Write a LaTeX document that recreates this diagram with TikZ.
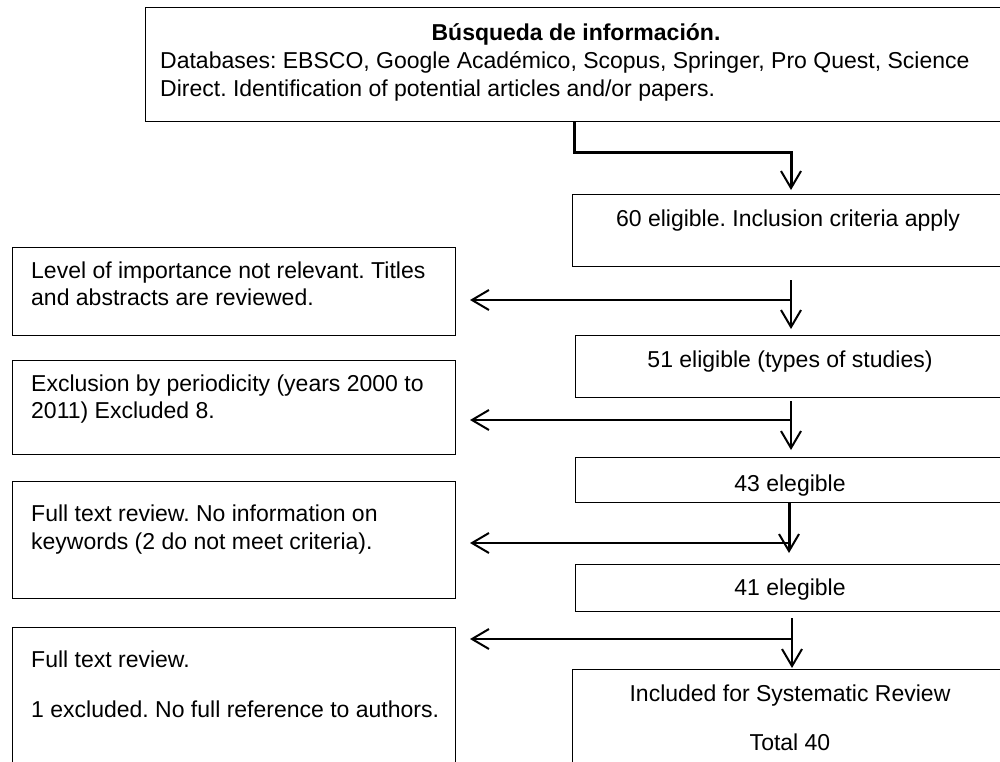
\documentclass[tikz,border=0pt]{standalone}
\usepackage{fontspec}
\setmainfont{Liberation Sans}
\usetikzlibrary{arrows.meta,calc}
\frenchspacing
\begin{document}
\begin{tikzpicture}[x=1pt,y=-1pt,
  box/.style={draw,line width=1pt,rectangle,inner sep=0pt,anchor=north west},
  lt/.style={anchor=base west,inner sep=0pt,font=\fontsize{23}{26.5}\selectfont},
  ct/.style={anchor=base,inner sep=0pt,font=\fontsize{23}{26.5}\selectfont},
  tip/.style={-{Straight Barb[length=17pt,width=20pt,line width=2pt]}},
  vflow/.style={tip,line width=2pt},
  hflow/.style={tip,line width=2.5pt,shorten >=14pt},
]
\useasboundingbox (0,0) rectangle (1000,761);
\clip (0,0) rectangle (1000,761);

% search box
\node[box,minimum width=863pt,minimum height=114pt] (top) at (145,7) {};
\node[ct,font=\fontsize{23}{26.5}\selectfont\bfseries] (t0) at (576,40) {Búsqueda de información.};
\node[lt] (t1) at (160,68) {Databases: EBSCO, Google Académico, Scopus, Springer, Pro Quest, Science};
\node[lt] (t2) at (160,96) {Direct. Identification of potential articles and/or papers.};

% main column
\node[box,minimum width=436pt,minimum height=72pt] (c60) at (572,194) {};
\node[ct] (c60t) at (788,226) {60 eligible. Inclusion criteria apply};
\node[box,minimum width=433pt,minimum height=62pt] (c51) at (575,335) {};
\node[ct] (c51t) at (790,367) {51 eligible (types of studies)};
\node[box,minimum width=433pt,minimum height=45pt] (c43) at (575,457) {};
\node[ct] (c43t) at (790,491) {43 elegible};
\node[box,minimum width=433pt,minimum height=47pt] (c41) at (575,564) {};
\node[ct] (c41t) at (790,595) {41 elegible};
\node[box,minimum width=436pt,minimum height=110pt] (inc) at (572,669) {};
\node[ct] (inct1) at (790,701) {Included for Systematic Review};
\node[ct] (inct2) at (790,750) {Total 40};

% exclusion column
\node[box,minimum width=443pt,minimum height=88pt] (lvl) at (12,247) {};
\node[lt] (lvl1) at (31,278) {Level of importance not relevant. Titles};
\node[lt] (lvl2) at (31,305) {and abstracts are reviewed.};
\node[box,minimum width=443pt,minimum height=94pt] (exc) at (12,360) {};
\node[lt] (exc1) at (31,391) {Exclusion by periodicity (years 2000 to};
\node[lt] (exc2) at (31,418) {2011) Excluded 8.};
\node[box,minimum width=443pt,minimum height=117pt] (ftr) at (12,481) {};
\node[lt] (ftr1) at (31,521) {Full text review. No information on};
\node[lt] (ftr2) at (31,549) {keywords (2 do not meet criteria).};
\node[box,minimum width=443pt,minimum height=150pt] (lst) at (12,627) {};
\node[lt] (lst1) at (31,667) {Full text review.};
\node[lt] (lst2) at (31,717) {1 excluded. No full reference to authors.};

% connectors
\coordinate (sp) at (791,0);
\coordinate (bend) at (574,152);
\draw[tip,line width=3pt,shorten >=4pt] (bend |- top.south) -- (bend) -| (sp |- c60.north);

\draw[vflow,shorten <=13pt,shorten >=6pt] (sp |- c60.south) -- (sp |- c51.north);
\draw[vflow,shorten <=3pt,shorten >=7pt] (sp |- c51.south) -- (sp |- c43.north);
\draw[vflow,line width=3pt,shorten >=11pt] ($(sp |- c43.south)+(-2,0)$) -- ($(sp |- c41.north)+(-2,0)$);
\draw[vflow,shorten <=6pt,shorten >=1pt] ($(sp |- c41.south)+(1,0)$) -- ($(sp |- inc.north)+(1,0)$);

\coordinate (h1) at (791,300);
\coordinate (h2) at (791,420);
\coordinate (h3) at (789,543);
\coordinate (h4) at (792,639);
\draw[hflow] (h1) -- (h1 -| lvl.east);
\draw[hflow] (h2) -- (h2 -| exc.east);
\draw[hflow] (h3) -- (h3 -| ftr.east);
\draw[hflow] (h4) -- (h4 -| lst.east);
\end{tikzpicture}
\end{document}
